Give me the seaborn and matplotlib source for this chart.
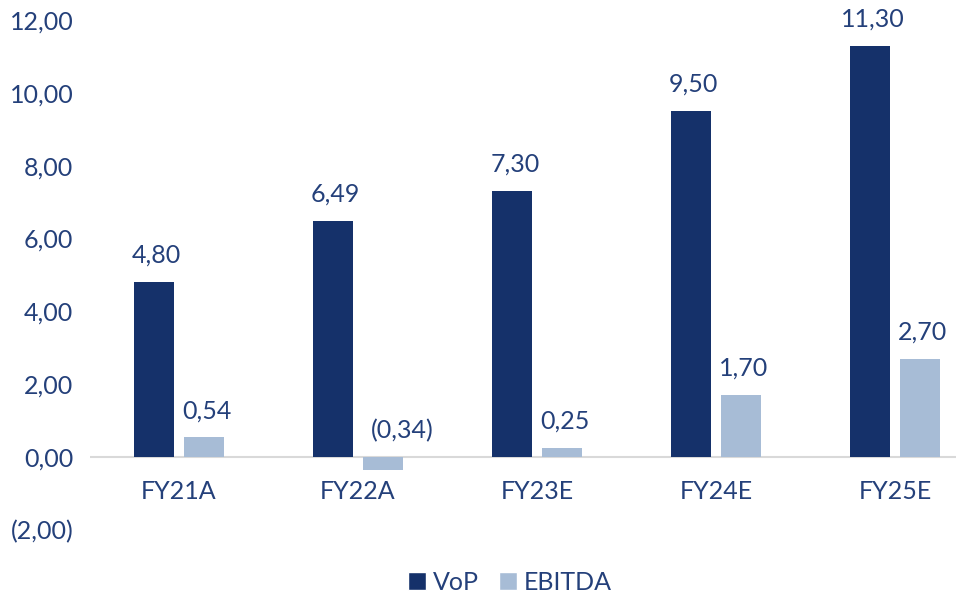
import matplotlib
matplotlib.use("Agg")
import matplotlib.pyplot as plt
import seaborn as sns
import pandas as pd
from matplotlib.patches import Patch

categories = ["FY21A", "FY22A", "FY23E", "FY24E", "FY25E"]
vop = [4.80, 6.49, 7.30, 9.50, 11.30]
ebitda = [0.54, -0.34, 0.25, 1.70, 2.70]
series_names = ["VoP", "EBITDA"]
y_ticks = [-2, 0, 2, 4, 6, 8, 10, 12]

C_VOP = "#15316a"
C_EB = "#a7bcd6"
C_TXT = "#24407a"
FS = 18

sns.set_style("white")
plt.rcParams['font.family'] = ['Lato', 'DejaVu Sans']

df = pd.DataFrame({
    "cat": categories * 2,
    "val": vop + ebitda,
    "series": [series_names[0]] * 5 + [series_names[1]] * 5,
})

fig = plt.figure(figsize=(9.56, 5.98), dpi=100)
ax = fig.add_axes([90/956, 68/598, (956-90)/956, (530-20)/598])

sns.barplot(data=df, x="cat", y="val", hue="series", order=categories,
            hue_order=series_names, palette=[C_VOP, C_EB], width=0.56,
            gap=0.2, ax=ax, legend=False, saturation=1)

ax.set_ylim(-2, 12)
ax.set_xlim(-0.497, 4.34)
ax.set_yticks(y_ticks)

def fmt(v, dec=2):
    s = f"{abs(v):.{dec}f}".replace(".", ",")
    return f"({s})" if v < 0 else s

ax.set_yticklabels([fmt(v) for v in y_ticks], color=C_TXT, fontsize=FS)
ax.tick_params(axis='y', length=0, pad=12)
ax.set_xticks([])
ax.set_xlabel("")
ax.set_ylabel("")
for s in ax.spines.values():
    s.set_visible(False)
ax.axhline(0, color="#d9d9d9", lw=1.5, zorder=0.5)

for i, c in enumerate(categories):
    ax.annotate(c, (i, 0), xytext=(0, -25), textcoords="offset points",
                ha="center", va="center", color=C_TXT, fontsize=FS)

for cont, vals in zip(ax.containers, [vop, ebitda]):
    for bar, v in zip(cont, vals):
        bar.set_edgecolor("none")
        top = max(v, 0)
        dx = 14 if v < 0 else 2
        ax.annotate(fmt(v), (bar.get_x() + bar.get_width() / 2, top),
                    xytext=(dx, 11), textcoords="offset points",
                    ha="center", va="bottom", color=C_TXT, fontsize=FS)

handles = [Patch(facecolor=C_VOP, label=series_names[0]),
           Patch(facecolor=C_EB, label=series_names[1])]
leg = fig.legend(handles=handles, loc="center", bbox_to_anchor=(510/956, 1 - 582/598),
                 ncol=2, frameon=False, prop={'size': FS},
                 handlelength=0.7, handleheight=0.7, handletextpad=0.3, columnspacing=0.8)
for t in leg.get_texts():
    t.set_color(C_TXT)

fig.savefig("out.png", dpi=100)
